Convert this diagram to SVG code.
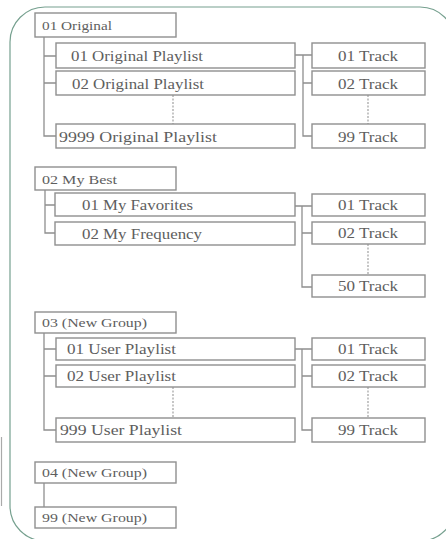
<svg xmlns="http://www.w3.org/2000/svg" width="446" height="539" viewBox="0 0 446 539">
<style>
.frame{fill:#fff;stroke:#76a08f;stroke-width:1.2}
.box{fill:#fff;stroke:#8f8f8f;stroke-width:1.4}
.ln{fill:none;stroke:#8f8f8f;stroke-width:1.3}
.dot{fill:none;stroke:#a0a0a0;stroke-width:1.2;stroke-dasharray:2 1.5}
.t{font-family:"Liberation Serif","Times New Roman",serif;fill:#5e5e5e}
.g{font-size:13px}
.p{font-size:14.5px}
.k{font-size:14px;text-anchor:middle}
</style>
<rect x="0" y="0" width="446" height="539" fill="#fff"/>
<rect class="frame" x="10" y="7" width="445" height="534" rx="35" ry="35"/>
<line x1="1.5" y1="437" x2="1.5" y2="506" stroke="#aaa" stroke-width="1.2"/>
<g id="connectors">
<path class="ln" d="M44,37 V136 H56 M44,56 H56 M44,83 H56"/>
<path class="dot" d="M173,95 V124"/>
<path class="ln" d="M295,55 H312 M303,55 V136 H312 M303,83 H312"/>
<path class="dot" d="M368,95 V124"/>
<path class="ln" d="M45,190 V233 H55 M45,205 H55"/>
<path class="ln" d="M295,206 H312 M302,206 V287 H312 M302,233 H312"/>
<path class="dot" d="M368,244 V275"/>
<path class="ln" d="M44,333 V430 H56 M44,349 H56 M44,376 H56"/>
<path class="dot" d="M173,387 V418"/>
<path class="ln" d="M295,349 H312 M302,349 V430 H312 M302,376 H312"/>
<path class="dot" d="M368,387 V418"/>
<path class="ln" d="M44,483 V507" stroke="#b0b0b0"/>
</g>
<g id="g01"><rect class="box" x="35" y="13" width="141" height="24"/><text class="t g" x="42" y="30" textLength="70" lengthAdjust="spacingAndGlyphs">01 Original</text></g>
<g id="g01p01"><rect class="box" x="56" y="43" width="239" height="25"/><text class="t p" x="71" y="61" textLength="132" lengthAdjust="spacingAndGlyphs">01 Original Playlist</text></g>
<g id="g01p02"><rect class="box" x="56" y="71" width="239" height="24"/><text class="t p" x="72" y="89" textLength="132" lengthAdjust="spacingAndGlyphs">02 Original Playlist</text></g>
<g id="g01p9999"><rect class="box" x="56" y="124" width="239" height="24"/><text class="t p" x="59" y="142" textLength="158" lengthAdjust="spacingAndGlyphs">9999 Original Playlist</text></g>
<g id="g01t01"><rect class="box" x="312" y="43" width="113" height="25"/><text class="t k" x="368" y="61" textLength="60" lengthAdjust="spacingAndGlyphs">01 Track</text></g>
<g id="g01t02"><rect class="box" x="312" y="71" width="113" height="24"/><text class="t k" x="368" y="89" textLength="60" lengthAdjust="spacingAndGlyphs">02 Track</text></g>
<g id="g01t99"><rect class="box" x="312" y="124" width="113" height="24"/><text class="t k" x="368" y="142" textLength="60" lengthAdjust="spacingAndGlyphs">99 Track</text></g>

<g id="g02"><rect class="box" x="35" y="167" width="141" height="23"/><text class="t g" x="42" y="184" textLength="75" lengthAdjust="spacingAndGlyphs">02 My Best</text></g>
<g id="g02p01"><rect class="box" x="55" y="193" width="240" height="23"/><text class="t p" x="82" y="210" textLength="111" lengthAdjust="spacingAndGlyphs">01 My Favorites</text></g>
<g id="g02p02"><rect class="box" x="55" y="222" width="240" height="23"/><text class="t p" x="82" y="239" textLength="120" lengthAdjust="spacingAndGlyphs">02 My Frequency</text></g>
<g id="g02t01"><rect class="box" x="312" y="194" width="113" height="22"/><text class="t k" x="368" y="210" textLength="60" lengthAdjust="spacingAndGlyphs">01 Track</text></g>
<g id="g02t02"><rect class="box" x="312" y="222" width="113" height="22"/><text class="t k" x="368" y="238" textLength="60" lengthAdjust="spacingAndGlyphs">02 Track</text></g>
<g id="g02t50"><rect class="box" x="312" y="275" width="113" height="22"/><text class="t k" x="368" y="291" textLength="60" lengthAdjust="spacingAndGlyphs">50 Track</text></g>

<g id="g03"><rect class="box" x="35" y="312" width="141" height="21"/><text class="t g" x="42" y="327" textLength="105" lengthAdjust="spacingAndGlyphs">03 (New Group)</text></g>
<g id="g03p01"><rect class="box" x="56" y="338" width="239" height="22"/><text class="t p" x="67" y="354" textLength="109" lengthAdjust="spacingAndGlyphs">01 User Playlist</text></g>
<g id="g03p02"><rect class="box" x="56" y="365" width="239" height="22"/><text class="t p" x="67" y="381" textLength="109" lengthAdjust="spacingAndGlyphs">02 User Playlist</text></g>
<g id="g03p999"><rect class="box" x="56" y="418" width="239" height="24"/><text class="t p" x="60" y="435" textLength="122" lengthAdjust="spacingAndGlyphs">999 User Playlist</text></g>
<g id="g03t01"><rect class="box" x="312" y="338" width="113" height="22"/><text class="t k" x="368" y="354" textLength="60" lengthAdjust="spacingAndGlyphs">01 Track</text></g>
<g id="g03t02"><rect class="box" x="312" y="365" width="113" height="22"/><text class="t k" x="368" y="381" textLength="60" lengthAdjust="spacingAndGlyphs">02 Track</text></g>
<g id="g03t99"><rect class="box" x="312" y="418" width="113" height="24"/><text class="t k" x="368" y="435" textLength="60" lengthAdjust="spacingAndGlyphs">99 Track</text></g>

<g id="g04"><rect class="box" x="35" y="462" width="141" height="21"/><text class="t g" x="42" y="477" textLength="105" lengthAdjust="spacingAndGlyphs">04 (New Group)</text></g>
<g id="g99"><rect class="box" x="35" y="507" width="141" height="21"/><text class="t g" x="42" y="522" textLength="105" lengthAdjust="spacingAndGlyphs">99 (New Group)</text></g>
</svg>
